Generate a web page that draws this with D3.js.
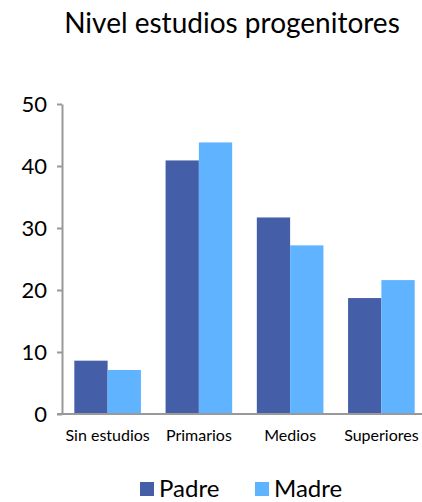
<!DOCTYPE html>
<html>
<head>
<meta charset="utf-8">
<script src="https://cdn.jsdelivr.net/npm/d3@7"></script>
<style>
  body { margin: 0; background: #fff; }
  svg { display: block; font-family: Lato, "Open Sans", sans-serif; }
</style>
</head>
<body>
<div id="chart"></div>
<script>
// Education level of parents (%)
const categories = ["Sin estudios", "Primarios", "Medios", "Superiores"];
const seriesNames = ["Padre", "Madre"];
const padre = [8.6, 40.9, 31.7, 18.7];
const madre = [7.1, 43.8, 27.2, 21.6];
const yTicks = [0, 10, 20, 30, 40, 50];
const colors = ["#445FA8", "#60B4FF"];

const width = 422, height = 502;
const margin = { top: 104, right: -5, bottom: 88, left: 62 };

const svg = d3.select("#chart").append("svg")
  .attr("width", width).attr("height", height);

svg.append("text")
  .attr("x", 232).attr("y", 33)
  .attr("text-anchor", "middle")
  .attr("font-size", 28)
  .attr("fill", "#000")
  .text("Nivel estudios progenitores");

const x0 = d3.scaleBand()
  .domain(categories)
  .range([margin.left, width - margin.right])
  .paddingInner(0.27)
  .paddingOuter(0.135);

const x1 = d3.scaleBand()
  .domain(seriesNames)
  .range([0, x0.bandwidth()]);

const y = d3.scaleLinear()
  .domain([0, 50])
  .range([height - margin.bottom, margin.top]);

const rows = categories.map((c, i) => ({ cat: c, values: [padre[i], madre[i]] }));

// bars
const g = svg.append("g");
g.selectAll("g.grp").data(rows).join("g")
  .attr("class", "grp")
  .attr("transform", d => `translate(${x0(d.cat)},0)`)
  .selectAll("rect").data(d => d.values.map((v, k) => ({ v, k })))
  .join("rect")
  .attr("x", d => x1(seriesNames[d.k]))
  .attr("width", x1.bandwidth())
  .attr("y", d => y(d.v))
  .attr("height", d => y(0) - y(d.v))
  .attr("fill", d => colors[d.k]);

// y axis
const yAxis = svg.append("g")
  .attr("transform", `translate(${margin.left},0)`)
  .call(d3.axisLeft(y).tickValues(yTicks).tickSize(5).tickPadding(10).tickSizeOuter(0));
yAxis.select(".domain").attr("stroke", "#999").attr("stroke-width", 2);
yAxis.selectAll(".tick line").attr("stroke", "#999").attr("stroke-width", 2);
yAxis.selectAll(".tick text")
  .attr("font-size", 22).attr("fill", "#000")
  .attr("font-family", "Lato, sans-serif");

// x axis
const xAxis = svg.append("g")
  .attr("transform", `translate(0,${y(0)})`)
  .call(d3.axisBottom(x0).tickSize(0).tickPadding(16));
xAxis.select(".domain").attr("stroke", "#999").attr("stroke-width", 2)
  .attr("d", `M${margin.left - 5},0H${width}`);
xAxis.selectAll(".tick text")
  .attr("font-size", 16).attr("fill", "#000")
  .attr("font-family", "Lato, sans-serif");

// legend
const legend = svg.append("g");
const legendX = [140, 255];
seriesNames.forEach((name, i) => {
  legend.append("rect")
    .attr("x", legendX[i]).attr("y", 482)
    .attr("width", 14).attr("height", 14)
    .attr("fill", colors[i]);
  legend.append("text")
    .attr("x", legendX[i] + 19).attr("y", 497)
    .attr("font-size", 24).attr("fill", "#000")
    .text(name);
});
</script>
</body>
</html>
